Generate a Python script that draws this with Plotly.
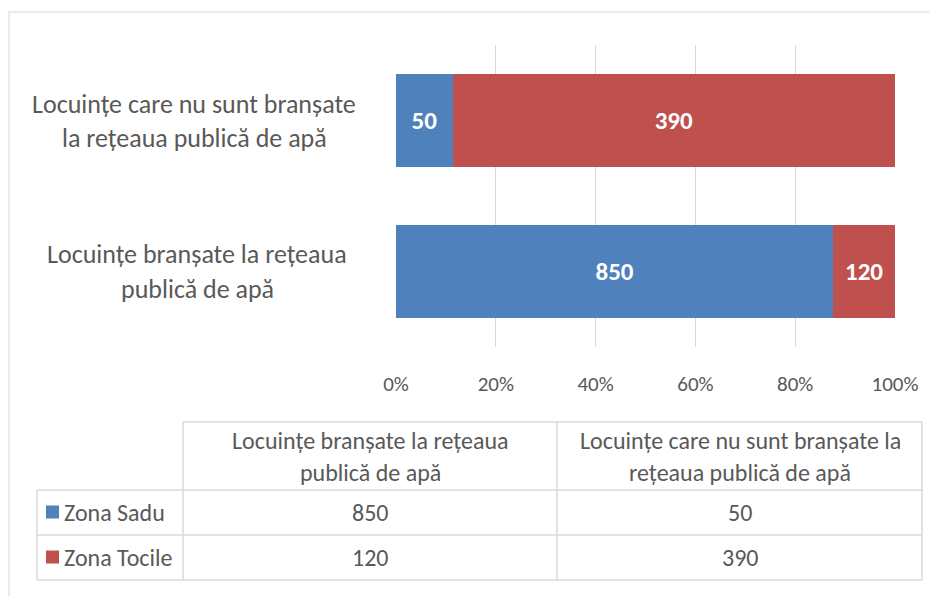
import plotly.graph_objects as go

# ---- data ----
categories = ["Locuințe branșate la rețeaua<br>publică de apă",
              "Locuințe care nu sunt branșate<br>la rețeaua publică de apă"]
table_headers = ["Locuințe branșate la rețeaua<br>publică de apă",
                 "Locuințe care nu sunt branșate la<br>rețeaua publică de apă"]
series_names = ["Zona Sadu", "Zona Tocile"]
sadu_values = [850, 50]
tocile_values = [120, 390]
x_ticks = [0, 20, 40, 60, 80, 100]

colors = ["#4F81BD", "#C0504D"]
FONT = "Carlito, Lato, sans-serif"
GRAY = "#595959"
LINE = "#D9D9D9"

# figure fits inside the page body (8px default margin)
OFF = 8
W, H = 937 - 2 * OFF, 604 - 2 * OFF
def px(x):
    return (x - OFF) / W
def py(y):
    return 1 - (y - OFF) / H

fig = go.Figure()
for name, vals, col in zip(series_names, [sadu_values, tocile_values], colors):
    fig.add_trace(go.Bar(
        y=list(range(len(categories))), x=vals, name=name, orientation="h",
        marker=dict(color=col, line=dict(width=0)),
        text=[str(v) for v in vals], textposition="inside",
        insidetextanchor="middle", constraintext="none",
        textfont=dict(family=FONT, size=25, color="white", weight="bold"),
        width=0.62, showlegend=False, hoverinfo="skip"))

fig.update_layout(
    width=W, height=H, autosize=False, barmode="stack", barnorm="percent",
    margin=dict(l=0, r=0, t=0, b=0, pad=0, autoexpand=False),
    showlegend=False,
    paper_bgcolor="white", plot_bgcolor="white",
    font=dict(family=FONT, color=GRAY),
    xaxis=dict(domain=[px(396), px(895)], range=[0, 100], automargin=False,
               tickvals=x_ticks, ticktext=[f"{t}%" for t in x_ticks],
               showgrid=True, gridcolor=LINE, gridwidth=1, zeroline=False,
               showline=False, ticks="", ticklabelstandoff=22,
               tickfont=dict(family=FONT, size=21, color=GRAY)),
    yaxis=dict(domain=[py(347), py(45)], range=[-0.5, 1.5], automargin=False,
               showticklabels=False, showgrid=False, zeroline=False,
               showline=False, ticks=""),
)

annotations = []
# category labels (centered multi-line)
label_pos = [(197, 271.5), (194, 121)]
for cat, (cx, cy) in zip(categories, label_pos):
    lines = cat.split("<br>")
    for i, ln in enumerate(lines):
        yy = cy + (i - (len(lines) - 1) / 2) * 34
        annotations.append(dict(x=px(cx), y=py(yy), xref="paper", yref="paper",
                                text=ln, showarrow=False, xanchor="center", yanchor="middle",
                                font=dict(family=FONT, size=26, color=GRAY)))

# table
shapes = []
def hline(y, x0, x1):
    shapes.append(dict(type="line", xref="paper", yref="paper", x0=px(x0), x1=px(x1),
                       y0=py(y), y1=py(y), line=dict(color=LINE, width=1.5)))
def vline(x, y0, y1):
    shapes.append(dict(type="line", xref="paper", yref="paper", x0=px(x), x1=px(x),
                       y0=py(y0), y1=py(y1), line=dict(color=LINE, width=1.5)))

hline(422, 183, 922)
for y in (490, 535, 580):
    hline(y, 37, 922)
vline(37, 490, 580)
for x in (183, 557, 922):
    vline(x, 422, 580)

col_centers = [370, 740]
row_centers = [512, 557]
for hdr, cx in zip(table_headers, col_centers):
    lines = hdr.split("<br>")
    for i, ln in enumerate(lines):
        yy = 456 + (i - (len(lines) - 1) / 2) * 32
        annotations.append(dict(x=px(cx), y=py(yy), xref="paper", yref="paper",
                                text=ln, showarrow=False, xanchor="center", yanchor="middle",
                                font=dict(family=FONT, size=24, color=GRAY)))
for name, vals, col, ry in zip(series_names, [sadu_values, tocile_values], colors, row_centers):
    shapes.append(dict(type="rect", xref="paper", yref="paper",
                       x0=px(46), x1=px(59), y0=py(ry + 6.5), y1=py(ry - 6.5),
                       fillcolor=col, line=dict(width=0)))
    annotations.append(dict(x=px(62), y=py(ry), xref="paper", yref="paper",
                            text=name, showarrow=False, xanchor="left", yanchor="middle",
                            font=dict(family=FONT, size=24, color=GRAY)))
    # table columns correspond to category order [connected, not connected]
    for v, cx in zip(vals, col_centers):
        annotations.append(dict(x=px(cx), y=py(ry), xref="paper", yref="paper",
                                text=str(v), showarrow=False, xanchor="center", yanchor="middle",
                                font=dict(family=FONT, size=24, color=GRAY)))

# faint outer frame
shapes.append(dict(type="line", xref="paper", yref="paper", x0=px(8), x1=1,
                   y0=py(12), y1=py(12), line=dict(color="#EBEBEB", width=2)))
shapes.append(dict(type="line", xref="paper", yref="paper", x0=px(9), x1=px(9),
                   y0=py(12), y1=0, line=dict(color="#EBEBEB", width=2)))

fig.update_layout(annotations=annotations, shapes=shapes)
fig.write_html("out.html")
